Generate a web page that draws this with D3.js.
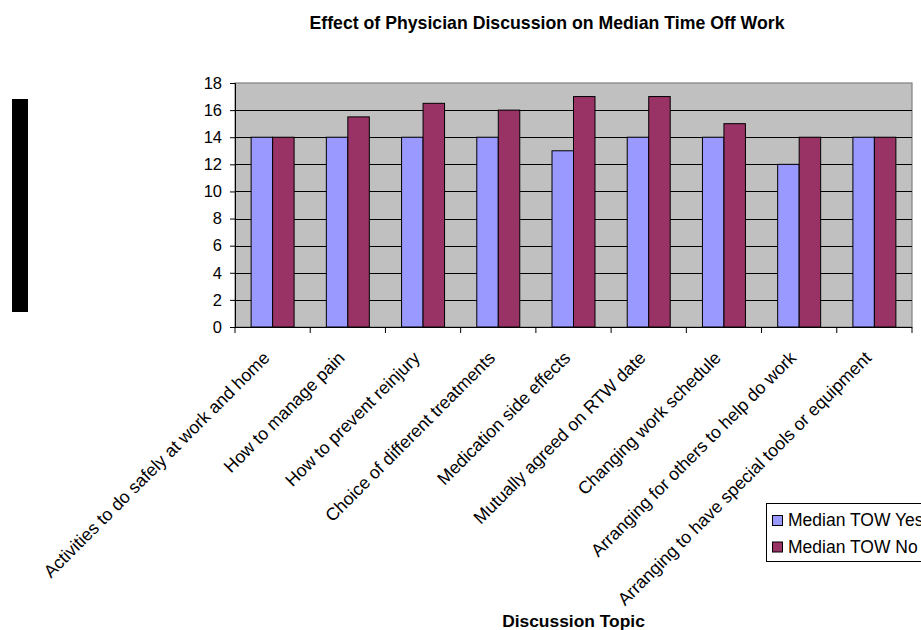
<!DOCTYPE html>
<html>
<head>
<meta charset="utf-8">
<script src="https://cdn.jsdelivr.net/npm/d3@7"></script>
<style>
  body { margin: 0; background: #fff; }
  svg { display: block; font-family: "Liberation Sans", Arial, sans-serif; }
</style>
</head>
<body>
<svg id="chart" width="921" height="630"></svg>
<script>
const categories = [
    "Activities to do safely at work and home",
    "How to manage pain",
    "How to prevent reinjury",
    "Choice of different treatments",
    "Medication side effects",
    "Mutually agreed on RTW date",
    "Changing work schedule",
    "Arranging for others to help do work",
    "Arranging to have special tools or equipment"
];
const seriesNames = ["Median TOW Yes", "Median TOW No"];
const towYes = [14, 14, 14, 14, 13, 14, 14, 12, 14];
const towNo = [14, 15.5, 16.5, 16, 17, 17, 15, 14, 14];
const yTicks = [0, 2, 4, 6, 8, 10, 12, 14, 16, 18];
const colors = ["#9999ff", "#993366"];

const rows = categories.map((c, i) => ({ cat: c, values: [towYes[i], towNo[i]] }));

const svg = d3.select("#chart");
const plotLeft = 235, plotRight = 912, plotTop = 83, plotBottom = 327;

const x = d3.scaleBand()
    .domain(categories)
    .range([plotLeft, plotRight])
    .padding(0);

// excel style gap width 150%
const xInner = d3.scaleBand()
    .domain(seriesNames)
    .range([0, x.bandwidth()])
    .paddingInner(0)
    .paddingOuter(0.75);

const y = d3.scaleLinear()
    .domain([0, 18])
    .range([plotBottom, plotTop]);

// stray black block at the left
svg.append("rect")
    .attr("x", 12).attr("y", 99)
    .attr("width", 16).attr("height", 213)
    .attr("fill", "#000");

// plot background
svg.append("rect")
    .attr("x", plotLeft).attr("y", plotTop)
    .attr("width", plotRight - plotLeft).attr("height", plotBottom - plotTop)
    .attr("fill", "#c0c0c0")
    .attr("stroke", "#808080")
    .attr("stroke-width", 1.2);

// gridlines
svg.append("g")
    .selectAll("line")
    .data(yTicks.filter(t => t > 0 && t < 18))
    .join("line")
    .attr("x1", plotLeft).attr("x2", plotRight)
    .attr("y1", d => Math.round(y(d)) + 0.5)
    .attr("y2", d => Math.round(y(d)) + 0.5)
    .attr("stroke", "#000")
    .attr("stroke-width", 1);

// bars
const groups = svg.append("g")
    .selectAll("g")
    .data(rows)
    .join("g")
    .attr("transform", d => `translate(${x(d.cat)},0)`);

groups.selectAll("rect")
    .data(d => d.values.map((v, j) => ({ key: seriesNames[j], value: v, j: j })))
    .join("rect")
    .attr("x", d => xInner(d.key))
    .attr("y", d => y(d.value))
    .attr("width", xInner.bandwidth())
    .attr("height", d => y(0) - y(d.value))
    .attr("fill", d => colors[d.j])
    .attr("stroke", "#000")
    .attr("stroke-width", 1);

// y axis
const yAxis = svg.append("g")
    .attr("transform", `translate(${plotLeft},0)`)
    .call(d3.axisLeft(y).tickValues(yTicks).tickSize(5).tickPadding(8));
yAxis.select(".domain").attr("stroke", "#000");
yAxis.selectAll("text")
    .attr("font-size", 16.5)
    .attr("font-family", "Liberation Sans, Arial, sans-serif")
    .attr("fill", "#000");

// x axis line and ticks at band boundaries
const xg = svg.append("g");
xg.append("line")
    .attr("x1", plotLeft).attr("x2", plotRight)
    .attr("y1", plotBottom + 0.5).attr("y2", plotBottom + 0.5)
    .attr("stroke", "#000");
xg.selectAll("line.tick")
    .data(categories.map(c => x(c)).concat([plotRight]))
    .join("line")
    .attr("class", "tick")
    .attr("x1", d => d).attr("x2", d => d)
    .attr("y1", plotBottom).attr("y2", plotBottom + 6)
    .attr("stroke", "#000");

// rotated category labels
xg.selectAll("text")
    .data(categories)
    .join("text")
    .attr("transform", d => `translate(${x(d) + x.bandwidth() / 2 - 2},359) rotate(-45)`)
    .attr("text-anchor", "end")
    .attr("font-size", 17.7)
    .attr("fill", "#000")
    .text(d => d);

// titles
svg.append("text")
    .attr("x", 547).attr("y", 29)
    .attr("text-anchor", "middle")
    .attr("font-size", 17.7)
    .attr("font-weight", "bold")
    .text("Effect of Physician Discussion on Median Time Off Work");

svg.append("text")
    .attr("x", (plotLeft + plotRight) / 2).attr("y", 627)
    .attr("text-anchor", "middle")
    .attr("font-size", 17.4)
    .attr("font-weight", "bold")
    .text("Discussion Topic");

// legend
const legend = svg.append("g").attr("transform", "translate(766,503)");
legend.append("rect")
    .attr("x", 0.5).attr("y", 0.5)
    .attr("width", 175).attr("height", 58)
    .attr("fill", "#fff")
    .attr("stroke", "#000");
const items = legend.selectAll("g.item")
    .data(seriesNames)
    .join("g")
    .attr("class", "item")
    .attr("transform", (d, i) => `translate(0,${12 + i * 26.5})`);
items.append("rect")
    .attr("x", 6.5).attr("y", 0.5)
    .attr("width", 10).attr("height", 10)
    .attr("fill", (d, i) => colors[i])
    .attr("stroke", "#000");
items.append("text")
    .attr("x", 22).attr("y", 11)
    .attr("font-size", 17.5)
    .text(d => d);
</script>
</body>
</html>
